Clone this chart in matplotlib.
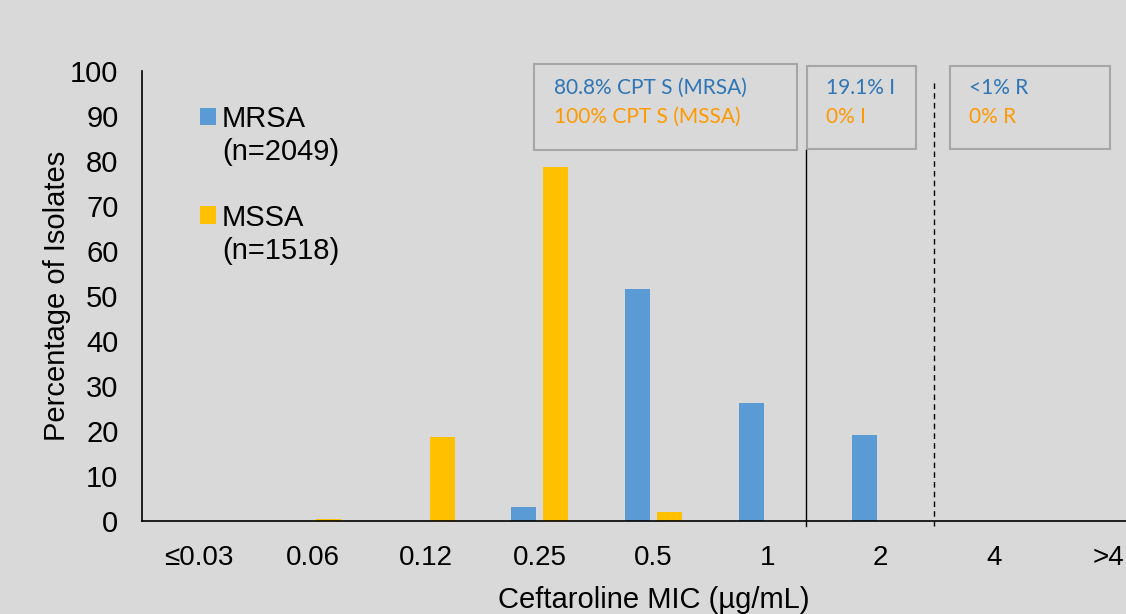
import matplotlib.pyplot as plt
from matplotlib.patches import Rectangle

# MIC categories and percentage of isolates
mic_labels = ['≤0.03', '0.06', '0.12', '0.25', '0.5', '1', '2', '4', '>4']
mrsa_pct = [0, 0, 0, 3.0, 51.6, 26.2, 19.1, 0, 0]
mssa_pct = [0, 0.5, 18.7, 78.7, 2.1, 0, 0, 0, 0]

# breakpoint annotations
box_mrsa = ['80.8% CPT S (MRSA)', '19.1% I', '<1% R']
box_mssa = ['100% CPT S (MSSA)', '0% I', '0% R']

bg = '#d9d9d9'
blue = '#5b9bd5'
gold = '#ffc000'
txt_blue = '#2e75b6'
txt_orange = '#ff9900'

plt.rcParams['font.family'] = ['Liberation Sans', 'DejaVu Sans']

fig = plt.figure(figsize=(11.26, 6.14), dpi=100, facecolor=bg)
ax = fig.add_axes([0.1261, 0.1515, 0.9085, 0.7329], facecolor=bg)

x = list(range(len(mic_labels)))
w = 0.22
off = 0.14
b1 = ax.bar([i - off for i in x], mrsa_pct, width=w, color=blue)
b2 = ax.bar([i + off for i in x], mssa_pct, width=w, color=gold)

ax.set_xlim(-0.5, 8.5)
ax.set_ylim(0, 100)
ax.set_yticks(range(0, 101, 10))
ax.set_xticks(x)
ax.set_xticklabels(mic_labels)
ax.tick_params(axis='y', length=0, labelsize=21, pad=17)
ax.tick_params(axis='x', length=0, labelsize=20, pad=17)
for s in ['top', 'right']:
    ax.spines[s].set_visible(False)
for s in ['left', 'bottom']:
    ax.spines[s].set_color('black')
    ax.spines[s].set_linewidth(1.2)

ax.set_ylabel('Percentage of Isolates', fontsize=21, labelpad=-1)
ax.set_xlabel('Ceftaroline MIC (µg/mL)', fontsize=21, labelpad=11)

# breakpoint lines
ax.plot([5.34, 5.34], [-1.2, 82.4], color='black', lw=1, clip_on=False)
ax.plot([6.47, 6.47], [-1.2, 98], color='black', lw=1, ls=(0, (4, 3)), clip_on=False)

# annotation boxes
boxes = [(2.948, 5.26, 82.4, 101.6), (5.349, 6.307, 82.7, 101.1), (6.607, 8.014, 82.7, 101.1)]
text_x = [3.124, 5.516, 6.78]
for (x0, x1, y0, y1), tx, t1, t2 in zip(boxes, text_x, box_mrsa, box_mssa):
    ax.add_patch(Rectangle((x0, y0), x1 - x0, y1 - y0, fill=False,
                           edgecolor='#a6a6a6', lw=1.5, clip_on=False))
    ax.text(tx, 96.3, t1, color=txt_blue, fontsize=15, family=['Lato', 'DejaVu Sans'],
            va='center', ha='left')
    ax.text(tx, 89.8, t2, color=txt_orange, fontsize=15, family=['Lato', 'DejaVu Sans'],
            va='center', ha='left')

# legend: square aligned with the first line of each entry
blank = Rectangle((0, 0), 1, 1, visible=False)
ax.legend([b1, blank, blank, b2, blank],
          ['MRSA', '(n=2049)', '', 'MSSA', '(n=1518)'],
          loc='upper left', bbox_to_anchor=(0.0567, 0.925), frameon=False, fontsize=21,
          handlelength=0.55, handleheight=0.55, handletextpad=0.2, labelspacing=0.17,
          borderpad=0, borderaxespad=0)

fig.savefig('out.png', dpi=100, facecolor=bg)
